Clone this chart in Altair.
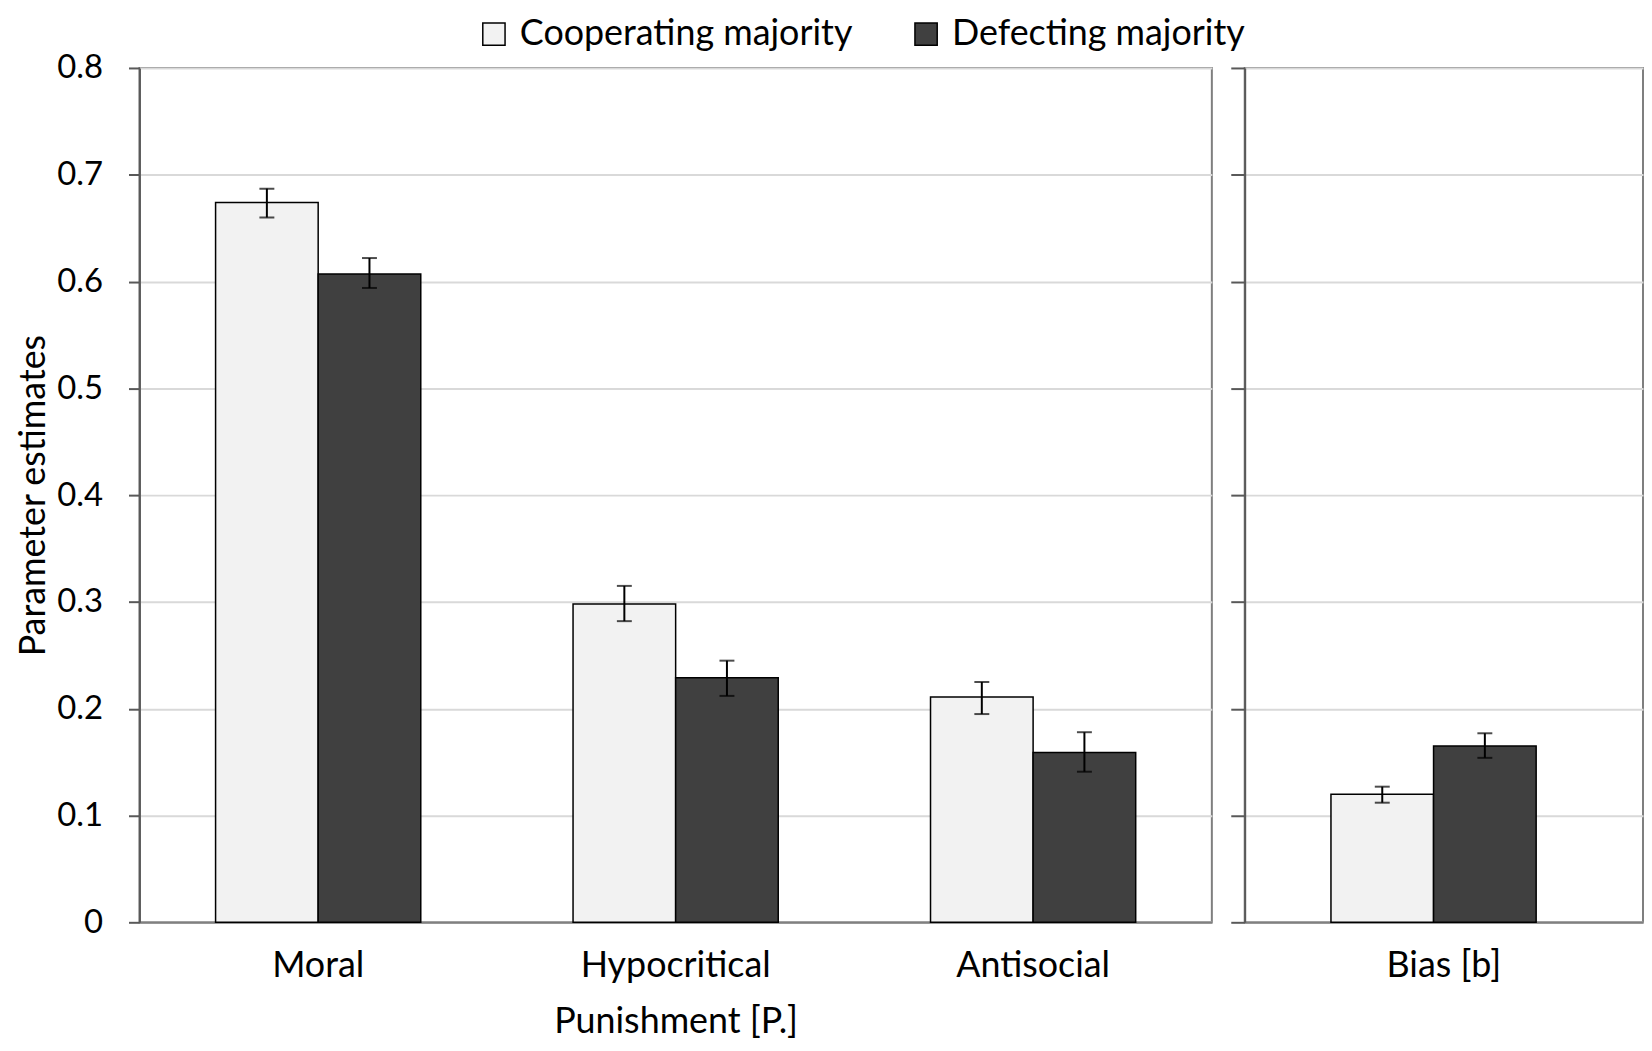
import altair as alt
import pandas as pd

categories = ["Moral", "Hypocritical", "Antisocial"]
groups = ["Cooperating majority", "Defecting majority"]
coop_vals = [0.674, 0.298, 0.211]
coop_lo = [0.660, 0.282, 0.195]
coop_hi = [0.687, 0.315, 0.225]
defect_vals = [0.607, 0.229, 0.159]
defect_lo = [0.594, 0.212, 0.141]
defect_hi = [0.622, 0.245, 0.178]

bias_category = ["Bias [b]"]
bias_vals = [0.120, 0.165]
bias_lo = [0.112, 0.154]
bias_hi = [0.127, 0.177]

y_ticks = [0, 0.1, 0.2, 0.3, 0.4, 0.5, 0.6, 0.7, 0.8]
colors = ["#f2f2f2", "#404040"]
FONT = "Lato"

rows = []
for i, c in enumerate(categories):
    rows.append(dict(category=c, group=groups[0], value=coop_vals[i], lo=coop_lo[i], hi=coop_hi[i]))
    rows.append(dict(category=c, group=groups[1], value=defect_vals[i], lo=defect_lo[i], hi=defect_hi[i]))
left_df = pd.DataFrame(rows)

rows = []
for j, g in enumerate(groups):
    rows.append(dict(category=bias_category[0], group=g, value=bias_vals[j], lo=bias_lo[j], hi=bias_hi[j]))
right_df = pd.DataFrame(rows)

color_scale = alt.Scale(domain=groups, range=colors)
y_scale = alt.Scale(domain=[0, 0.8], nice=False, zero=True)


def panel(df, cats, width, x_title, pad_inner, pad_outer, left_labels):
    x_enc = alt.X(
        "category:N",
        sort=cats,
        scale=alt.Scale(paddingInner=pad_inner, paddingOuter=pad_outer),
        axis=alt.Axis(
            title=x_title,
            labelAngle=0,
            ticks=False,
            domainColor="#808080",
            domainWidth=2,
            labelFontSize=36,
            labelFont=FONT,
            labelColor="black",
            labelPadding=26,
            labelLimit=0,
            titleFontSize=36,
            titleFont=FONT,
            titleFontWeight="normal",
            titleColor="black",
            titlePadding=22,
        ),
    )
    if left_labels:
        y_axis = alt.Axis(
            values=y_ticks,
            title="Parameter estimates",
            titleFontSize=36,
            titleFont=FONT,
            titleFontWeight="normal",
            titleColor="black",
            titlePadding=4,
            labelFontSize=33,
            labelFont=FONT,
            labelColor="black",
            labelPadding=26,
            labelExpr="datum.value == 0 ? '0' : format(datum.value, '.1f')",
            tickSize=11,
            tickColor="#595959",
            tickWidth=2,
            domainColor="#595959",
            domainWidth=2,
            gridColor="#d9d9d9",
            gridWidth=2,
        )
    else:
        y_axis = alt.Axis(
            values=y_ticks,
            title=None,
            labels=False,
            tickSize=14,
            tickColor="#595959",
            tickWidth=2,
            domainColor="#595959",
            domainWidth=2,
            gridColor="#d9d9d9",
            gridWidth=2,
        )
    base = alt.Chart(df)
    bars = base.mark_bar(stroke="black", strokeWidth=1.5).encode(
        x=x_enc,
        xOffset=alt.XOffset("group:N", sort=groups, scale=alt.Scale(paddingInner=0, paddingOuter=0)),
        y=alt.Y("value:Q", scale=y_scale, axis=y_axis),
        color=alt.Color(
            "group:N",
            scale=color_scale,
            legend=alt.Legend(
                title=None,
                orient="none",
                legendX=338,
                legendY=-52,
                direction="horizontal",
                symbolType="square",
                symbolSize=500,
                symbolStrokeColor="black",
                symbolStrokeWidth=1.5,
                symbolOpacity=1,
                labelFontSize=36,
                labelFont=FONT,
                labelColor="black",
                labelOffset=8,
                labelLimit=0,
                columnPadding=55,
            ),
        ),
    )
    rule = base.mark_rule(color="black", strokeWidth=2).encode(
        x=alt.X("category:N", sort=cats),
        xOffset=alt.XOffset("group:N", sort=groups),
        y=alt.Y("lo:Q", scale=y_scale),
        y2="hi:Q",
    )
    cap_hi = base.mark_tick(color="black", size=15, thickness=2).encode(
        x=alt.X("category:N", sort=cats),
        xOffset=alt.XOffset("group:N", sort=groups),
        y=alt.Y("hi:Q", scale=y_scale),
    )
    cap_lo = base.mark_tick(color="black", size=15, thickness=2).encode(
        x=alt.X("category:N", sort=cats),
        xOffset=alt.XOffset("group:N", sort=groups),
        y=alt.Y("lo:Q", scale=y_scale),
    )
    return alt.layer(bars, rule, cap_hi, cap_lo).properties(width=width, height=858)


left = panel(left_df, categories, 1077, "Punishment [P.]", 0.426, 0.213, True)
right = panel(right_df, bias_category, 400, None, 0, 0.382, False)

chart = (
    alt.hconcat(left, right, spacing=16)
    .properties(padding={"left": 6, "top": 6, "right": 0, "bottom": 0}, background="white")
    .configure_view(stroke="#7f7f7f", strokeWidth=2)
)

chart.save("out.html", embed_options={"renderer": "svg", "actions": False})
